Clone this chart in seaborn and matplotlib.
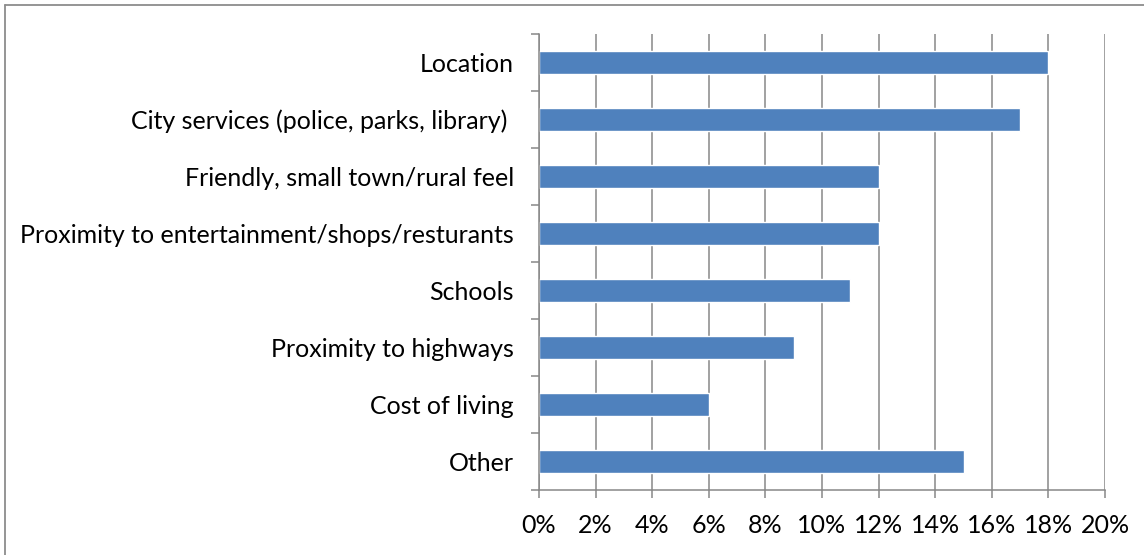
import seaborn as sns
import matplotlib.pyplot as plt
import pandas as pd
import numpy as np
from matplotlib.ticker import PercentFormatter, FixedLocator
from matplotlib.lines import Line2D

# Reasons for living in the city (share of responses)
reasons = [
    "Location",
    "City services (police, parks, library) ",
    "Friendly, small town/rural feel",
    "Proximity to entertainment/shops/resturants",
    "Schools",
    "Proximity to highways",
    "Cost of living",
    "Other",
]
shares = [18, 17, 12, 12, 11, 9, 6, 15]

df = pd.DataFrame({"Reason": reasons, "Share": shares})

sns.set_style("white")
plt.rcParams["font.family"] = ["Lato", "DejaVu Sans"]

fig = plt.figure(figsize=(11.44, 5.55), dpi=100)
ax = fig.add_axes([539 / 1144, 1 - 490 / 555, (1105 - 539) / 1144, (490 - 34) / 555])

sns.barplot(data=df, x="Share", y="Reason", orient="h", color="#4F81BD",
            width=0.4, saturation=1, ax=ax)

grid_col = "#878787"
ax.set_xlim(0, 20)
ax.set_xticks(np.arange(0, 21, 2))
ax.xaxis.set_major_formatter(PercentFormatter(decimals=0))
ax.grid(axis="x", color=grid_col, linewidth=1.1)
ax.set_axisbelow(True)
ax.set_xlabel("")
ax.set_ylabel("")

# ticks between categories like the original spreadsheet chart
ax.yaxis.set_minor_locator(FixedLocator(np.arange(-0.5, len(reasons), 1)))
ax.tick_params(axis="y", which="major", length=0, pad=18, labelsize=18, labelcolor="black")
ax.tick_params(axis="y", which="minor", length=6, width=1.1, color=grid_col, left=True)
ax.tick_params(axis="x", length=6, width=1.1, color=grid_col, bottom=True, pad=11,
               labelsize=18, labelcolor="black")

for side in ["top", "right"]:
    ax.spines[side].set_visible(False)
for side in ["left", "bottom"]:
    ax.spines[side].set_color(grid_col)
    ax.spines[side].set_linewidth(1.1)

# outer chart border (top and left visible)
fig.add_artist(Line2D([5 / 1144, 1], [1 - 5 / 555, 1 - 5 / 555], color="#8c8c8c", linewidth=1.3))
fig.add_artist(Line2D([5 / 1144, 5 / 1144], [0, 1 - 5 / 555], color="#8c8c8c", linewidth=1.3))

fig.savefig("out.png", dpi=100)
